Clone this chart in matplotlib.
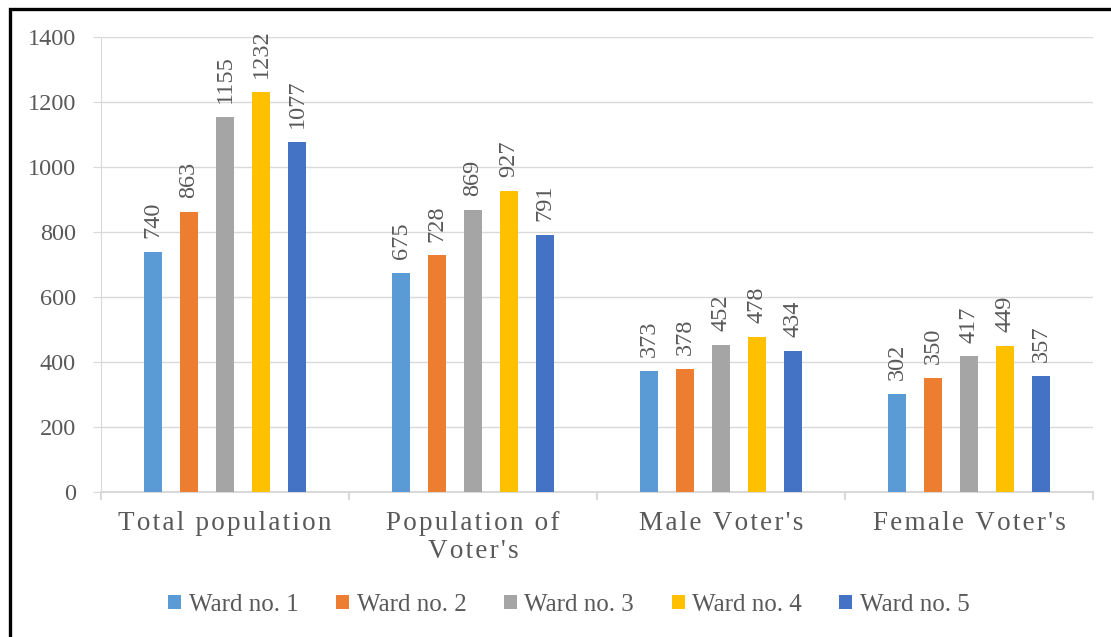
import numpy as np
import matplotlib
matplotlib.use("Agg")
import matplotlib.pyplot as plt
from matplotlib.patches import Rectangle

plt.rcParams['font.family'] = ['Liberation Serif', 'DejaVu Serif']

categories = ["Total population", "Population of\nVoter's", "Male Voter's", "Female Voter's"]
wards = ["Ward no. 1", "Ward no. 2", "Ward no. 3", "Ward no. 4", "Ward no. 5"]
ward1 = [740, 675, 373, 302]
ward2 = [863, 728, 378, 350]
ward3 = [1155, 869, 452, 417]
ward4 = [1232, 927, 478, 449]
ward5 = [1077, 791, 434, 357]
series = [ward1, ward2, ward3, ward4, ward5]
colors = ["#5B9BD5", "#ED7D31", "#A5A5A5", "#FFC000", "#4472C4"]
yticks = [0, 200, 400, 600, 800, 1000, 1200, 1400]

TXT = "#595959"
GRID = "#d9d9d9"


def spaced(s, sep="\u200a"):
    # fake letter spacing, each line separately
    return "\n".join(sep.join(line) for line in s.split("\n"))


fig = plt.figure(figsize=(11.11, 6.37), dpi=100)
ax = fig.add_axes([101/1111, 1 - 492/637, (1093-101)/1111, 455/637])

x = np.arange(len(categories))
step = 0.145
width = 0.074
for i, (vals, c, name) in enumerate(zip(series, colors, wards)):
    pos = x + (i - 2) * step
    ax.bar(pos, vals, width, color=c, label=name, zorder=3)
    for p, v in zip(pos, vals):
        ax.annotate(str(v), (p, v), xytext=(0, 10), textcoords="offset points",
                    rotation=90, ha="center", va="bottom", fontsize=17.5, color=TXT)

ax.set_ylim(0, 1400)
ax.set_yticks(yticks)
ax.set_xlim(-0.5, 3.5)
ax.grid(axis="y", color=GRID, linewidth=1, zorder=0)
ax.set_axisbelow(True)
for s in ["top", "right"]:
    ax.spines[s].set_visible(False)
ax.spines["left"].set_color(GRID)
ax.spines["bottom"].set_color(GRID)
ax.spines["bottom"].set_linewidth(1.5)
ax.tick_params(axis="y", colors=GRID, labelcolor=TXT, labelsize=17.5, length=6, pad=12)

ax.set_xticks(x)
ax.set_xticklabels([spaced(c) for c in categories], fontsize=19.5, color=TXT, linespacing=1.15)
ax.set_xticks(np.arange(-0.5, 4, 1), minor=True)
ax.tick_params(axis="x", which="major", length=0, pad=14)
ax.tick_params(axis="x", which="minor", length=6, color=GRID, width=1.5)

leg = ax.legend(loc="center", bbox_to_anchor=(569/1111, 1 - 605/637),
                bbox_transform=fig.transFigure, ncol=5, frameon=False,
                fontsize=18, handlelength=0.52, handleheight=0.52,
                handletextpad=0.3, columnspacing=1.5, borderpad=0)
for t in leg.get_texts():
    t.set_color(TXT)

# frame round the figure (only top and left edges are visible)
fig.patches.append(Rectangle((10/1111, -0.1), 1.2, 1 - 9/637 + 0.1,
                             transform=fig.transFigure, fill=False,
                             edgecolor="black", linewidth=2.4))

fig.savefig("out.png", dpi=100)
